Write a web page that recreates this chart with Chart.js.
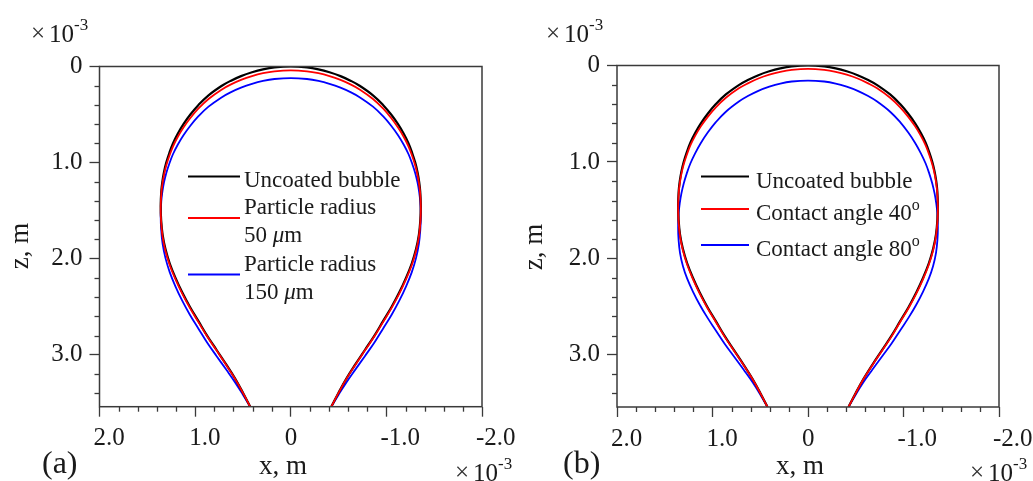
<!DOCTYPE html>
<html><head><meta charset="utf-8">
<script src="https://cdn.jsdelivr.net/npm/chart.js@4.4.1/dist/chart.umd.min.js"></script>
<style>
html,body{margin:0;padding:0;background:#fff;}
#wrap{position:relative;width:1033px;height:481px;overflow:hidden;background:#fff;}
canvas{position:absolute;top:0;}
</style></head><body>
<div id="wrap">
<canvas id="ca" width="516" height="481" style="left:0"></canvas>
<canvas id="cb" width="517" height="481" style="left:516px"></canvas>
</div>
<script>
// ---------- tick labels ----------
const xTickValues = [2, 1, 0, -1, -2];
const xTickLabels = ['2.0', '1.0', '0', '-1.0', '-2.0'];
const yTickValues = [0, 1, 2, 3];
const yTickLabels = ['0', '1.0', '2.0', '3.0'];

// ---------- series names ----------
const seriesNamesA = ['Uncoated bubble', 'Particle radius\n50 μm', 'Particle radius\n150 μm'];
const seriesNamesB = ['Uncoated bubble', 'Contact angle 40^o', 'Contact angle 80^o'];

// ---------- half-profiles (radius r, height z; both x10^-3 m), from the top down to the neck ----------
// uncoated bubble (both panels)
const uncoatedR = [0, 0.17, 0.29, 0.405, 0.52, 0.63, 0.72, 0.86, 0.965, 1.05, 1.122, 1.182, 1.232, 1.27, 1.302, 1.326, 1.343, 1.354, 1.36, 1.355, 1.34, 1.31, 1.265, 1.205, 1.135, 1.055, 0.965, 0.875, 0.775, 0.675, 0.58, 0.497, 0.424];
const uncoatedZ = [0, 0.01, 0.03, 0.06, 0.1, 0.15, 0.2, 0.3, 0.4, 0.5, 0.6, 0.7, 0.8, 0.9, 1.0, 1.1, 1.2, 1.3, 1.45, 1.6, 1.75, 1.9, 2.05, 2.2, 2.35, 2.5, 2.65, 2.8, 2.95, 3.1, 3.25, 3.4, 3.54];
// (a) particle radius 50 um
const rad50R = [0, 0.17, 0.29, 0.405, 0.52, 0.63, 0.72, 0.86, 0.965, 1.05, 1.122, 1.182, 1.232, 1.27, 1.302, 1.326, 1.343, 1.354, 1.36, 1.355, 1.34, 1.31, 1.265, 1.205, 1.135, 1.055, 0.965, 0.875, 0.775, 0.675, 0.58, 0.497, 0.424];
const rad50Z = [0.04, 0.05, 0.07, 0.1, 0.14, 0.189, 0.239, 0.338, 0.437, 0.536, 0.635, 0.734, 0.833, 0.932, 1.031, 1.13, 1.229, 1.328, 1.476, 1.624, 1.772, 1.92, 2.068, 2.216, 2.364, 2.512, 2.66, 2.808, 2.956, 3.105, 3.253, 3.402, 3.54];
// (a) particle radius 150 um
const rad150R = [0, 0.17, 0.29, 0.405, 0.52, 0.63, 0.72, 0.86, 0.965, 1.05, 1.122, 1.182, 1.232, 1.27, 1.302, 1.326, 1.343, 1.354, 1.36, 1.355, 1.34, 1.31, 1.265, 1.205, 1.135, 1.055, 0.965, 0.875, 0.775, 0.675, 0.58, 0.497, 0.424];
const rad150Z = [0.12, 0.13, 0.15, 0.18, 0.22, 0.269, 0.319, 0.418, 0.517, 0.616, 0.715, 0.814, 0.913, 1.012, 1.11, 1.209, 1.307, 1.405, 1.552, 1.699, 1.846, 1.994, 2.142, 2.29, 2.437, 2.583, 2.728, 2.872, 3.014, 3.154, 3.29, 3.42, 3.54];
// (b) contact angle 40 deg
const ang40R = [0, 0.17, 0.29, 0.405, 0.52, 0.63, 0.72, 0.86, 0.965, 1.05, 1.122, 1.182, 1.232, 1.27, 1.302, 1.326, 1.343, 1.354, 1.36, 1.355, 1.34, 1.31, 1.265, 1.205, 1.135, 1.055, 0.965, 0.875, 0.775, 0.675, 0.58, 0.497, 0.424];
const ang40Z = [0.035, 0.045, 0.065, 0.095, 0.135, 0.185, 0.234, 0.334, 0.433, 0.532, 0.631, 0.73, 0.829, 0.928, 1.027, 1.126, 1.225, 1.324, 1.473, 1.621, 1.77, 1.918, 2.066, 2.214, 2.362, 2.511, 2.659, 2.808, 2.956, 3.105, 3.253, 3.402, 3.54];
// (b) contact angle 80 deg
const ang80R = [0, 0.17, 0.29, 0.405, 0.52, 0.63, 0.72, 0.86, 0.965, 1.05, 1.122, 1.182, 1.232, 1.27, 1.302, 1.326, 1.343, 1.354, 1.36, 1.355, 1.34, 1.31, 1.265, 1.205, 1.135, 1.055, 0.965, 0.875, 0.775, 0.675, 0.58, 0.497, 0.424];
const ang80Z = [0.156, 0.166, 0.187, 0.22, 0.263, 0.317, 0.371, 0.479, 0.587, 0.695, 0.803, 0.91, 1.016, 1.121, 1.225, 1.328, 1.429, 1.528, 1.673, 1.81, 1.945, 2.078, 2.21, 2.343, 2.477, 2.611, 2.746, 2.881, 3.016, 3.151, 3.283, 3.415, 3.54];

// ---------- helpers ----------
const SERIF = "'Liberation Serif','Times New Roman',serif";
const TXT = '#1a1a1a';
const AX = '#3a3a3a';
function isMaj(v){ return Math.abs(v - Math.round(v)) < 1e-6; }
function lab(vals, labels, v){
  for (let i = 0; i < vals.length; i++) if (Math.abs(vals[i] - v) < 1e-6) return labels[i];
  return '';
}
// closed profile: left side (positive x) from the neck up to the top, then the mirrored right side
function buildCurve(r, z){
  const pts = [];
  for (let i = r.length - 1; i >= 0; i--) pts.push({x: r[i], y: z[i]});
  for (let i = 1; i < r.length; i++) pts.push({x: -r[i], y: z[i]});
  return pts;
}
// rich text: 'μ' italic, '^' starts superscript
function drawRich(c, text, x, y, size){
  let sup = false, cx = x, buf = '';
  const flush = (italic) => {
    if (!buf) return;
    const s = sup ? Math.round(size * 0.68) : size;
    c.font = (italic ? 'italic ' : '') + s + 'px ' + SERIF;
    c.fillText(buf, cx, sup ? y - size * 0.42 : y);
    cx += c.measureText(buf).width;
    buf = '';
  };
  for (const ch of text) {
    if (ch === '^') { flush(false); sup = true; continue; }
    if (ch === 'μ') { flush(false); buf = 'μ'; flush(true); continue; }
    buf += ch;
  }
  flush(false);
}

const decor = {
  id: 'decor',
  afterDraw(chart, args, o){
    const c = chart.ctx, a = chart.chartArea;
    const xs = chart.scales.x, ys = chart.scales.y;
    c.save();
    // minor ticks
    c.strokeStyle = AX; c.lineWidth = 1.3;
    xs.ticks.forEach(t => {
      if (!isMaj(t.value)) {
        const px = Math.round(xs.getPixelForValue(t.value)) + 0.5;
        c.beginPath(); c.moveTo(px, a.bottom); c.lineTo(px, a.bottom + 5); c.stroke();
      }
    });
    ys.ticks.forEach(t => {
      if (!isMaj(t.value)) {
        const py = Math.round(ys.getPixelForValue(t.value)) + 0.5;
        c.beginPath(); c.moveTo(a.left, py); c.lineTo(a.left - 5, py); c.stroke();
      }
    });
    // frame
    c.lineWidth = 1.5;
    c.strokeRect(a.left, a.top, a.right - a.left, a.bottom - a.top);

    // legend
    c.textAlign = 'left'; c.textBaseline = 'alphabetic';
    chart.data.datasets.forEach((ds, i) => {
      const sy = o.legY[i];
      c.strokeStyle = ds.borderColor; c.lineWidth = ds.borderWidth;
      c.beginPath(); c.moveTo(o.legX1, sy); c.lineTo(o.legX2, sy); c.stroke();
      const lines = ds.label.split('\n');
      const first = sy - (lines.length - 1) * 14 + o.legDy;
      c.fillStyle = TXT;
      lines.forEach((ln, k) => drawRich(c, ln, o.legTx, first + k * 28, 23));
    });

    // axis titles
    c.fillStyle = TXT;
    c.font = '27px ' + SERIF;
    c.textAlign = 'center'; c.textBaseline = 'alphabetic';
    c.fillText('x, m', o.xtX, o.xtY);
    c.save();
    c.translate(o.ztX, o.ztY); c.rotate(-Math.PI / 2);
    c.textBaseline = 'middle';
    c.fillText('z, m', 0, 0);
    c.restore();

    // panel letter
    c.textAlign = 'left';
    c.font = '32px ' + SERIF;
    c.fillText(o.letter, o.letX, o.letY);

    // multipliers
    const mult = (x, y) => {
      c.fillStyle = '#333';
      c.font = '25px ' + SERIF; c.fillText('×', x, y - 1);
      c.fillStyle = TXT;
      c.font = '25px ' + SERIF; c.fillText('10', x + 18, y);
      c.font = '17px ' + SERIF; c.fillText('-3', x + 43, y - 12);
    };
    mult(o.m1X, o.m1Y);
    mult(o.m2X, o.m2Y);
    c.restore();
  }
};

function makeChart(id, p){
  return new Chart(document.getElementById(id), {
    type: 'scatter',
    data: {
      datasets: p.series.map(s => ({
        label: s.label,
        data: buildCurve(s.r, s.z),
        borderColor: s.color,
        borderWidth: s.width,
        order: s.order,
        showLine: true,
        pointRadius: 0,
        pointHoverRadius: 0,
        tension: 0.4,
        fill: false
      }))
    },
    options: {
      responsive: false,
      animation: false,
      devicePixelRatio: 1,
      events: [],
      layout: { padding: { left: p.padL, right: p.padR, top: p.padT, bottom: 0 } },
      plugins: { legend: { display: false }, tooltip: { enabled: false }, decor: p.decor },
      scales: {
        x: {
          type: 'linear', reverse: true, min: -2, max: 2,
          afterFit(s){ s.height = p.xH; s.paddingLeft = 0; s.paddingRight = 0; },
          border: { display: false },
          grid: { drawOnChartArea: false, tickLength: 10, tickWidth: 1.3,
                  tickColor: ctx => (ctx.tick && isMaj(ctx.tick.value)) ? AX : 'rgba(0,0,0,0)' },
          ticks: { stepSize: 0.2, autoSkip: false, includeBounds: false, maxRotation: 0, minRotation: 0,
                   align: 'start', labelOffset: -6, padding: 7, color: TXT,
                   font: { family: SERIF, size: 25 },
                   callback: v => lab(xTickValues, xTickLabels, v) }
        },
        y: {
          type: 'linear', reverse: true, min: 0, max: 3.54,
          afterFit(s){ s.width = p.yW; s.paddingTop = 0; s.paddingBottom = 0; },
          border: { display: false },
          grid: { drawOnChartArea: false, tickLength: 10, tickWidth: 1.3,
                  tickColor: ctx => (ctx.tick && isMaj(ctx.tick.value)) ? AX : 'rgba(0,0,0,0)' },
          ticks: { stepSize: 0.2, autoSkip: false, includeBounds: false, padding: 7, color: TXT,
                   font: { family: SERIF, size: 25 },
                   callback: v => lab(yTickValues, yTickLabels, v) }
        }
      }
    },
    plugins: [decor]
  });
}

makeChart('ca', {
  padL: 0, padR: 34, padT: 66.5, xH: 74.3, yW: 99.5,
  series: [
    { label: seriesNamesA[0], r: uncoatedR, z: uncoatedZ, color: '#000000', width: 2.2, order: 1 },
    { label: seriesNamesA[1], r: rad50R, z: rad50Z, color: '#ff0000', width: 1.8, order: 0 },
    { label: seriesNamesA[2], r: rad150R, z: rad150Z, color: '#0000ff', width: 1.8, order: 2 }
  ],
  decor: { legX1: 188, legX2: 240, legTx: 244, legY: [176.5, 218, 274.5], legDy: 10,
           xtX: 283, xtY: 474, ztX: 21, ztY: 246, letter: '(a)', letX: 42, letY: 473,
           m1X: 31, m1Y: 42, m2X: 455, m2Y: 481 }
});

makeChart('cb', {
  padL: 0, padR: 34, padT: 65.5, xH: 74, yW: 101,
  series: [
    { label: seriesNamesB[0], r: uncoatedR, z: uncoatedZ, color: '#000000', width: 2.2, order: 1 },
    { label: seriesNamesB[1], r: ang40R, z: ang40Z, color: '#ff0000', width: 1.8, order: 0 },
    { label: seriesNamesB[2], r: ang80R, z: ang80Z, color: '#0000ff', width: 1.8, order: 2 }
  ],
  decor: { legX1: 185, legX2: 233, legTx: 240, legY: [176.5, 209, 245], legDy: 11,
           xtX: 284, xtY: 474, ztX: 18.5, ztY: 247, letter: '(b)', letX: 47, letY: 473,
           m1X: 30, m1Y: 42, m2X: 454, m2Y: 481 }
});
</script>
</body></html>
